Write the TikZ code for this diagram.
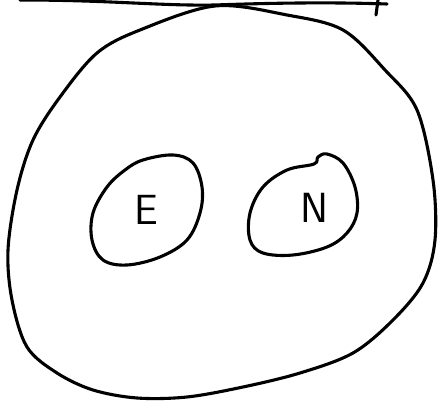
\documentclass[tikz,border=0pt]{standalone}
\usepackage{tikz}
\usetikzlibrary{arrows.meta, positioning, calc}

\tikzset{lbl/.style={font=\fontsize{30}{36}\sffamily}}

\begin{document}
\begin{tikzpicture}[x=0.025cm, y=-0.025cm, line width=2.2pt, line join=round, line cap=round]
  \useasboundingbox (0,0) rectangle (441,405);
  % Tangent line at the top
  \draw (20,0) .. controls (110,0) and (160,6) .. (215,5)
        .. controls (270,3) and (330,2) .. (387,4);
  \draw (378,0) -- (376,15);
  % Big region
  \draw plot[smooth cycle, tension=0.55] coordinates {
    (215,6) (140,30) (97,53) (60,97) (33,140) (17,190) (8,250)
    (12,300) (27,347) (57,373) (93,390) (137,398) (187,397)
    (243,387) (300,373) (353,353) (393,320) (423,283) (435,240)
    (433,180) (417,110) (385,70) (343,30) (287,15)};
  % Small region E
  \draw plot[smooth cycle, tension=0.6] coordinates {
    (143,160) (173,155) (193,163) (202,187) (200,213) (187,240)
    (160,257) (127,265) (103,260) (92,240) (93,213) (107,187)
    (125,170)};
  \node[lbl] (e) at (146,210) {E};
  % Small region N
  \draw plot[smooth cycle, tension=0.6] coordinates {
    (314,164) (318,157) (327,154) (343,163) (355,187) (357,213)
    (347,233) (327,247) (293,255) (263,253) (250,240) (250,213)
    (263,187) (287,170)};
  \node[lbl] (n) at (314,208) {N};
\end{tikzpicture}
\end{document}
